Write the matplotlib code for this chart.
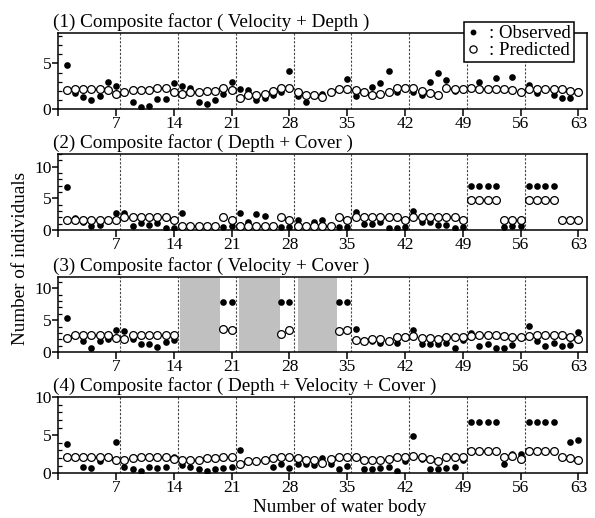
import matplotlib.pyplot as plt
from matplotlib.lines import Line2D
from matplotlib.ticker import MultipleLocator
import numpy as np

plt.rcParams['font.family'] = ['Liberation Serif', 'DejaVu Serif']

nan = np.nan
water_body = list(range(1, 64))
x_ticks = [0, 7, 14, 21, 28, 35, 42, 49, 56, 63]
x_tick_labels = ['', '7', '14', '21', '28', '35', '42', '49', '56', '63']
group_edges = [7.5, 14.5, 21.5, 28.5, 35.5, 42.5, 49.5, 56.5]

titles = ['(1) Composite factor ( Velocity + Depth )',
          '(2) Composite factor ( Depth + Cover )',
          '(3) Composite factor ( Velocity + Cover )',
          '(4) Composite factor ( Depth + Velocity + Cover )']

obs1 = [4.8, 1.7, 1.3, 1.0, 1.4, 2.9, 2.5, 1.8, 0.8, 0.15, 0.35, 1.1, 1.1, 2.8,
        2.55, 2.3, 0.7, 0.5, 0.95, 1.6, 3.0, 2.2, 2.1, 0.95, 1.2, 1.55, 1.8, 4.2,
        1.4, 0.75, 1.55, 1.6, 1.9, 2.2, 3.3, 1.4, 1.85, 2.4, 2.85, 4.2, 1.85, 2.3,
        1.85, 1.55, 3.0, 4.0, 3.2, 2.0, 2.2, 2.3, 3.0, 2.2, 3.4, 2.2, 3.55, 1.85,
        2.6, 1.75, 2.2, 1.55, 1.2, 1.2, 2.0]
pred1 = [2.1, 2.2, 2.2, 2.2, 2.2, 2.1, 1.6, 1.8, 2.1, 2.1, 2.1, 2.25, 2.25, 1.9,
         1.65, 1.85, 1.8, 2.0, 2.0, 2.25, 2.1, 1.2, 1.5, 1.55, 1.65, 2.0, 2.25, 2.25,
         1.9, 1.55, 1.55, 1.25, 1.9, 2.2, 2.2, 2.1, 1.85, 1.55, 1.6, 1.8, 2.3, 2.3,
         2.3, 2.0, 1.75, 1.5, 2.3, 2.2, 2.2, 2.3, 2.2, 2.2, 2.2, 2.2, 2.1, 1.85,
         2.2, 2.2, 2.2, 2.2, 2.2, 2.0, 1.8]

obs2 = [6.85, 1.9, 1.3, 0.65, 0.75, 1.6, 2.7, 2.7, 0.65, 1.05, 0.75, 1.05, 0.3, 0.3,
        2.7, 0.65, 0.65, 0.65, 0.65, 0.55, 0.65, 2.7, 1.2, 2.5, 2.25, 0.65, 0.55, 0.55,
        1.6, 0.65, 1.3, 1.6, 0.65, 0.55, 0.55, 2.8, 0.9, 0.9, 1.3, 0.35, 0.35, 0.55,
        3.05, 1.2, 1.3, 0.8, 0.8, 0.35, 0.55, 7.0, 7.0, 7.0, 7.0, 0.55, 0.6, 0.6,
        7.0, 7.0, 7.0, 7.0, 1.6, 1.6, 1.6]
pred2 = [1.6, 1.6, 1.6, 1.6, 1.6, 1.6, 1.6, 2.1, 2.1, 2.1, 2.1, 2.1, 2.1, 1.6,
         0.65, 0.65, 0.65, 0.65, 0.65, 2.1, 1.6, 0.65, 0.65, 0.65, 0.65, 0.65, 2.1, 1.6,
         0.65, 0.65, 0.65, 0.65, 0.65, 2.1, 1.6, 2.1, 2.1, 2.1, 2.1, 2.1, 2.1, 1.6,
         2.1, 2.1, 2.1, 2.1, 2.1, 2.1, 1.6, 4.7, 4.7, 4.7, 4.7, 1.6, 1.6, 1.6,
         4.7, 4.7, 4.7, 4.7, 1.6, 1.6, 1.6]

obs3 = [5.35, 2.6, 1.7, 0.67, 1.75, 2.05, 3.45, 3.35, 2.05, 1.3, 1.2, 0.77, 1.6, 1.95,
        nan, nan, nan, nan, nan, 7.8, 7.8, nan, nan, nan, nan, nan, 7.8, 7.8,
        nan, nan, nan, nan, nan, 7.8, 7.8, 3.55, 1.75, 1.7, 1.4, 1.75, 1.4, 2.4,
        3.45, 1.3, 1.2, 1.2, 1.35, 0.57, 1.9, 3.0, 1.0, 1.25, 0.57, 0.57, 1.1, 2.3,
        4.05, 1.8, 0.88, 1.4, 1.0, 1.1, 3.15]
pred3 = [2.25, 2.6, 2.6, 2.6, 2.6, 2.7, 2.25, 2.1, 2.6, 2.6, 2.6, 2.6, 2.6, 2.6,
         nan, nan, nan, nan, nan, 3.65, 3.45, nan, nan, nan, nan, nan, 2.8, 3.4,
         nan, nan, nan, nan, nan, 3.3, 3.4, 1.9, 1.75, 2.05, 2.05, 1.75, 2.3, 2.4,
         2.5, 2.25, 2.15, 2.1, 2.3, 2.3, 2.4, 2.5, 2.6, 2.6, 2.6, 2.5, 2.3, 2.3,
         2.5, 2.6, 2.6, 2.6, 2.6, 2.3, 2.1]
# water bodies without data in panel (3)
gray_spans = [(14.8, 19.6), (21.9, 26.8), (29.0, 33.8)]

obs4 = [3.8, 2.1, 0.88, 0.7, 1.6, 2.1, 4.15, 0.88, 0.6, 0.35, 0.88, 0.7, 0.88, 2.2,
        1.05, 0.88, 0.6, 0.35, 0.6, 0.75, 0.88, 3.0, 1.6, 1.6, 1.75, 0.88, 1.2, 0.7,
        1.25, 1.25, 1.1, 2.0, 1.2, 0.6, 0.95, 2.1, 0.6, 0.6, 0.7, 0.8, 0.3, 1.6,
        4.95, 1.9, 0.6, 0.6, 0.7, 0.88, 1.75, 6.7, 6.7, 6.7, 6.7, 1.2, 2.55, 2.55,
        6.7, 6.7, 6.7, 6.7, 2.2, 4.15, 4.4]
pred4 = [2.1, 2.1, 2.1, 2.1, 2.2, 2.1, 1.75, 1.75, 2.05, 2.1, 2.1, 2.2, 2.2, 1.9,
         1.75, 1.8, 1.8, 2.0, 2.0, 2.2, 2.2, 1.25, 1.6, 1.6, 1.75, 2.0, 2.2, 2.2,
         2.0, 1.75, 1.75, 1.4, 1.9, 2.2, 2.2, 2.1, 1.75, 1.75, 1.75, 1.9, 2.2, 2.2,
         2.3, 2.1, 1.9, 1.6, 2.2, 2.2, 2.2, 2.95, 2.95, 2.95, 2.95, 2.2, 2.3, 1.9,
         2.95, 2.95, 2.95, 2.95, 2.2, 2.0, 1.75]

observed = [obs1, obs2, obs3, obs4]
predicted = [pred1, pred2, pred3, pred4]
y_max = [8.4, 12, 11.8, 10]
y_ticks = [[0, 5], [0, 5, 10], [0, 5, 10], [0, 5, 10]]

fig = plt.figure(figsize=(5.95, 5.18), dpi=100)
# axes rectangles (left, bottom, width, height)
boxes = [[0.098, 0.790, 0.888, 0.147],
         [0.098, 0.556, 0.888, 0.147],
         [0.098, 0.3205, 0.888, 0.145],
         [0.098, 0.0863, 0.888, 0.147]]

for k in range(4):
    ax = fig.add_axes(boxes[k])
    ax.set_xlim(0, 64)
    ax.set_ylim(0, y_max[k])

    for e in group_edges:
        ax.axvline(e, color='#444444', lw=0.8, ls=(0, (2, 1.5)), zorder=1)

    if k == 2:
        for a, b in gray_spans:
            ax.fill_between([a, b], 0, 11.65, color='#c0c0c0', lw=0, zorder=2)

    ax.plot(water_body, observed[k], 'o', color='black', ms=4.8, mew=0, zorder=3)
    ax.plot(water_body, predicted[k], 'o', mfc='white', mec='black', ms=5.6,
            mew=0.9, zorder=4)

    ax.set_xticks(x_ticks)
    ax.set_xticklabels(x_tick_labels)
    ax.set_yticks(y_ticks[k])
    ax.yaxis.set_minor_locator(MultipleLocator(1))
    ax.tick_params(axis='x', direction='out', length=5, width=1.1, labelsize=12.5, pad=0)
    ax.tick_params(axis='y', which='major', direction='out', length=4, width=1.1,
                   labelsize=12.5, pad=1)
    ax.tick_params(axis='y', which='minor', direction='in', length=3, width=0.9)
    for s in ax.spines.values():
        s.set_linewidth(1.1)

    ax.text(-0.01, 1.025, titles[k], transform=ax.transAxes, fontsize=13.8,
            ha='left', va='bottom')

    if k == 0:
        handles = [Line2D([], [], ls='', marker='o', color='black', ms=4.2, mew=0),
                   Line2D([], [], ls='', marker='o', mfc='white', mec='black',
                          ms=5.2, mew=0.9)]
        leg = ax.legend(handles, [': Observed', ': Predicted'], loc='upper right',
                        bbox_to_anchor=(0.976, 1.136), borderaxespad=0, fontsize=13.5,
                        frameon=True, fancybox=False, framealpha=1, edgecolor='black',
                        handlelength=0.7, handletextpad=0.5, labelspacing=0.0,
                        borderpad=0.15)
        leg.get_frame().set_linewidth(1.1)
        leg.set_zorder(10)

fig.text(0.034, 0.502, 'Number of individuals', rotation=90, fontsize=13.8,
         ha='center', va='center')
fig.text(0.571, 0.021, 'Number of water body', fontsize=13.8, ha='center', va='center')

plt.savefig('out.png', dpi=100)
